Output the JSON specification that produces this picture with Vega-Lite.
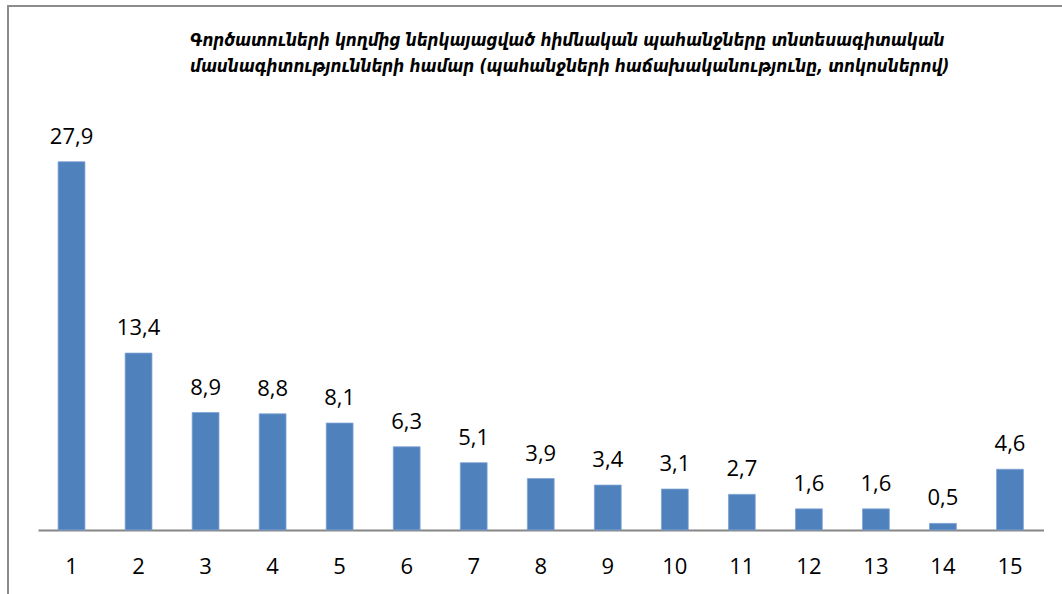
{
  "$schema": "https://vega.github.io/schema/vega-lite/v6.json",
  "autosize": {"type": "none"},
  "padding": {"left": 8, "top": 6, "right": 0, "bottom": 0},
  "width": 1070,
  "height": 600,
  "background": "white",
  "config": {
    "view": {"stroke": "#8c8c8c", "strokeWidth": 2},
    "locale": {"number": {"decimal": ",", "thousands": " ", "grouping": [3], "currency": ["", ""]}}
  },
  "title": {
    "text": ["Գործատուների կողմից ներկայացված հիմնական պահանջները տնտեսագիտական", "մասնագիտությունների համար (պահանջների հաճախականությունը, տոկոսներով)"],
    "font": "DejaVu Sans Condensed",
    "fontSize": 17,
    "fontStyle": "italic",
    "fontWeight": "bold",
    "color": "#000000",
    "anchor": "start",
    "frame": "group",
    "baseline": "top",
    "dx": 182,
    "dy": 74,
    "lineHeight": 26
  },
  "data": {
    "values": [
      {"n": 1, "v": 27.9},
      {"n": 2, "v": 13.4},
      {"n": 3, "v": 8.9},
      {"n": 4, "v": 8.8},
      {"n": 5, "v": 8.1},
      {"n": 6, "v": 6.3},
      {"n": 7, "v": 5.1},
      {"n": 8, "v": 3.9},
      {"n": 9, "v": 3.4},
      {"n": 10, "v": 3.1},
      {"n": 11, "v": 2.7},
      {"n": 12, "v": 1.6},
      {"n": 13, "v": 1.6},
      {"n": 14, "v": 0.5},
      {"n": 15, "v": 4.6}
    ]
  },
  "encoding": {
    "x": {
      "field": "n",
      "type": "ordinal",
      "scale": {"range": [30, 1035.5], "paddingInner": 0.6, "paddingOuter": 0.3},
      "axis": {
        "title": null,
        "orient": "bottom",
        "offset": -76,
        "labelAngle": 0,
        "labelFont": "Open Sans",
        "labelFontSize": 22,
        "labelColor": "#000000",
        "labelBaseline": "alphabetic",
        "labelPadding": 43,
        "ticks": false,
        "tickSize": 0,
        "domainColor": "#868686",
        "domainWidth": 2
      }
    },
    "y": {
      "field": "v",
      "type": "quantitative",
      "scale": {"domain": [-5.76, 39.7], "nice": false, "zero": false},
      "axis": null
    }
  },
  "layer": [
    {
      "mark": {"type": "bar", "color": "#4F81BD", "stroke": "#7FA3D3", "strokeWidth": 0.8},
      "encoding": {"y2": {"datum": 0}}
    },
    {
      "mark": {"type": "text", "font": "Open Sans", "fontSize": 22, "color": "#000000", "baseline": "alphabetic", "dy": -18},
      "encoding": {"text": {"field": "v", "type": "quantitative", "format": ".1f"}}
    }
  ]
}
